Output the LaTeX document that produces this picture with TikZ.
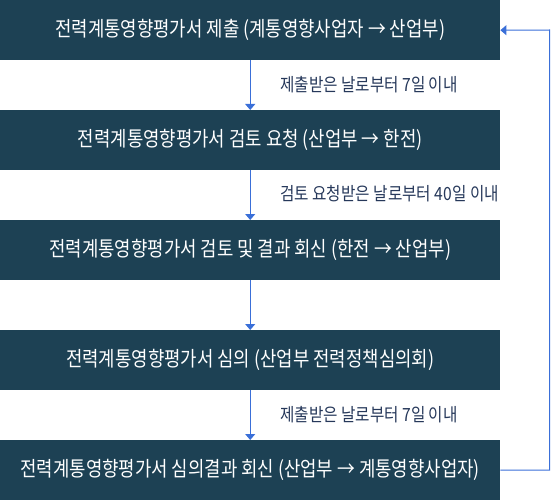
\documentclass[tikz,border=0pt]{standalone}
\usepackage{fontspec}
\newfontfamily\kr[FakeStretch=0.86]{Noto Sans CJK KR}
\usetikzlibrary{arrows.meta}
\definecolor{boxnavy}{HTML}{1D4154}
\definecolor{lineblue}{HTML}{3A6FD8}
\definecolor{labelnavy}{HTML}{26385A}
\tikzset{
  x=1pt, y=-1pt,
  stepbox/.style={fill=boxnavy, draw=none, minimum width=500pt, minimum height=60pt, inner sep=0pt, text=white, font=\kr\fontsize{20.7}{24}\selectfont, anchor=north west},
  flow/.style={draw=lineblue, line width=1pt, -{Triangle[width=10pt,length=6pt]}},
  lbl/.style={text=labelnavy, font=\kr\fontsize{18.2}{21}\selectfont, anchor=west, inner sep=0pt}
}
\begin{document}
\begin{tikzpicture}
\useasboundingbox (0,0) rectangle (551,500);
\node[stepbox] (b1) at (0,0) {전력계통영향평가서 제출 (계통영향사업자 → 산업부)};
\node[stepbox] (b2) at (0,110) {전력계통영향평가서 검토 요청 (산업부 → 한전)};
\node[stepbox] (b3) at (0,220) {전력계통영향평가서 검토 및 결과 회신 (한전 → 산업부)};
\node[stepbox] (b4) at (0,330) {전력계통영향평가서 심의 (산업부 전력정책심의회)};
\node[stepbox] (b5) at (0,440) {전력계통영향평가서 심의결과 회신 (산업부 → 계통영향사업자)};
\draw[flow] (b1.south) -- (b2.north);
\draw[flow] (b2.south) -- (b3.north);
\draw[flow] (b3.south) -- (b4.north);
\draw[flow] (b4.south) -- (b5.north);
\node[lbl] (l1) at (280,85) {제출받은 날로부터 7일 이내};
\node[lbl] (l2) at (280,194) {검토 요청받은 날로부터 40일 이내};
\node[lbl] (l3) at (280,415) {제출받은 날로부터 7일 이내};
\coordinate (c1) at (549.5,470);
\coordinate (c2) at (549.5,30);
\draw[flow] (b5.east) -- (c1) -- (c2) -- (b1.east);
\end{tikzpicture}
\end{document}
